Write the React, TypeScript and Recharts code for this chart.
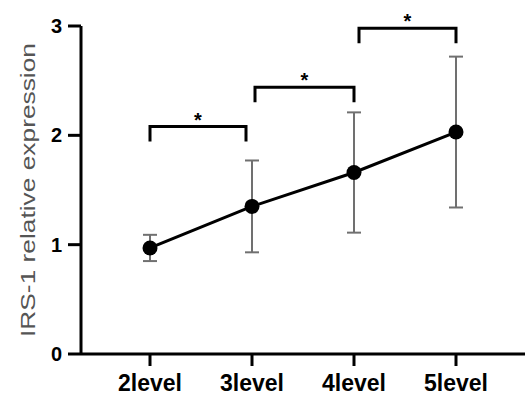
import { LineChart, Line, XAxis, YAxis, ErrorBar, ReferenceLine } from 'recharts';

const levels = ['2level', '3level', '4level', '5level'];
const means = [0.97, 1.35, 1.66, 2.03];
const errors = [0.12, 0.42, 0.55, 0.69];
const yTicks = [0, 1, 2, 3];

// significance brackets between neighbouring levels
const bracketFrom = ['2level', '3level', '4level'];
const bracketTo = ['3level', '4level', '5level'];
const bracketTops = [2.08, 2.44, 2.98];
const bracketMarks = ['*', '*', '*'];

const FONT = '"Liberation Sans", Arial, sans-serif';

const chartData = levels.map((level, i) => ({ level, value: means[i], err: errors[i] }));

// small pixel insets so brackets sit just beside the error-bar caps
const insetLeft = [0, 3, 5];
const insetRight = [6, 0, 0];

function renderBracket(props: any, i: number) {
  const x1 = props.x1 + insetLeft[i];
  const x2 = props.x2 - insetRight[i];
  const y = props.y1;
  const leg = 15;
  return (
    <g>
      <path
        d={`M${x1},${y + leg} V${y} H${x2} V${y + leg}`}
        fill="none"
        stroke="#000"
        strokeWidth={3}
      />
      <text
        x={(x1 + x2) / 2}
        y={y}
        textAnchor="middle"
        fontSize={20}
        fontWeight="bold"
        fontFamily={FONT}
        fill="#000"
      >
        {bracketMarks[i]}
      </text>
    </g>
  );
}

const YLabel = ({ viewBox }: any) => {
  const cy = viewBox.y + viewBox.height / 2;
  return (
    <text
      x={35}
      y={cy}
      transform={`rotate(-90, 35, ${cy})`}
      textAnchor="middle"
      fontSize={21}
      fontFamily={FONT}
      fill="#555"
      textLength={294}
      lengthAdjust="spacingAndGlyphs"
    >
      IRS-1 relative expression
    </text>
  );
};

export default function App() {
  return (
    <div style={{ position: 'absolute', left: 0, top: 0, background: '#fff' }}>
      <LineChart
        width={525}
        height={398}
        data={chartData}
        margin={{ top: 26, right: 0, bottom: 0, left: 0 }}
      >
        <XAxis
          dataKey="level"
          type="category"
          padding={{ left: 69, right: 69 }}
          height={44}
          stroke="#000"
          strokeWidth={3}
          tickSize={12}
          tickMargin={9}
          tick={{ fill: '#000', fontSize: 23, fontWeight: 'bold', fontFamily: FONT }}
        />
        <YAxis
          domain={[0, 3]}
          ticks={yTicks}
          width={81}
          stroke="#000"
          strokeWidth={3}
          tickSize={13}
          tickMargin={6}
          tick={{ fill: '#000', fontSize: 20, fontWeight: 'bold', fontFamily: FONT }}
          label={<YLabel />}
        />
        {bracketFrom.map((from, i) => (
          <ReferenceLine
            key={from}
            segment={[
              { x: from, y: bracketTops[i] },
              { x: bracketTo[i], y: bracketTops[i] },
            ]}
            ifOverflow="visible"
            shape={(p: any) => renderBracket(p, i)}
          />
        ))}
        <Line
          type="linear"
          dataKey="value"
          stroke="#000"
          strokeWidth={3}
          dot={{ r: 7.5, fill: '#000', stroke: '#000', strokeWidth: 0 }}
          activeDot={false}
          isAnimationActive={false}
        >
          <ErrorBar
            dataKey="err"
            direction="y"
            width={7}
            stroke="#707070"
            strokeWidth={2}
            isAnimationActive={false}
          />
        </Line>
      </LineChart>
    </div>
  );
}
